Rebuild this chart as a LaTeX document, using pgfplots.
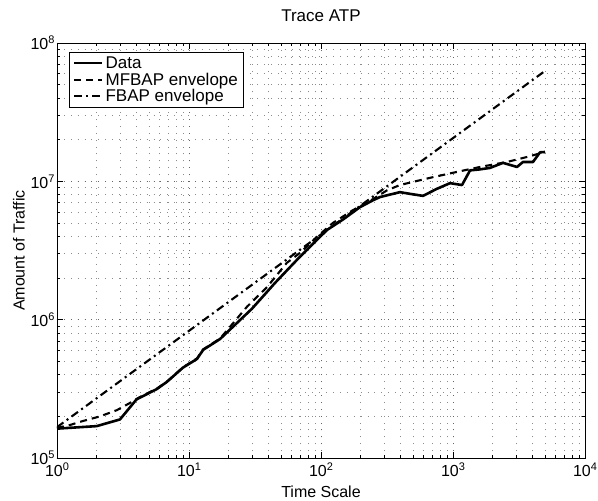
\documentclass[border=0pt]{standalone}
\usepackage{fontspec}
\setmainfont{Liberation Sans}
\usepackage{pgfplots}
\pgfplotsset{compat=1.18}
\newcommand{\tl}[1]{10\raisebox{6bp}{\fontsize{11bp}{12bp}\selectfont #1}}
\begin{document}
\begin{tikzpicture}
\begin{axis}[
  scale only axis, width=528bp, height=415bp,
  xmode=log, ymode=log,
  xmin=1, xmax=10000, ymin=1e5, ymax=1e8,
  xtick={1,10,100,1000,10000},
  xticklabels={\tl{0},\tl{1},\tl{2},\tl{3},\tl{4}},
  ytick={1e5,1e6,1e7,1e8},
  yticklabels={\tl{5},\tl{6},\tl{7},\tl{8}},
  grid=both,
  major grid style={dash pattern=on 0.9bp off 6bp, black!60, line width=0.9bp},
  minor grid style={dash pattern=on 0.9bp off 6bp, black!45, line width=0.9bp},
  tick align=inside, xtick pos=both, ytick pos=both,
  major tick length=6bp, minor tick length=3.5bp,
  every tick/.style={black, line width=0.7bp},
  axis line style={line width=0.8bp},
  ticklabel style={font=\fontsize{16bp}{18bp}\selectfont},
  xticklabel style={yshift=-1bp},
  yticklabel style={xshift=1bp},
  title={Trace ATP},
  title style={font=\fontsize{17bp}{19bp}\selectfont, yshift=12bp},
  xlabel={Time Scale},
  ylabel={Amount of Traffic},
  label style={font=\fontsize{16bp}{18bp}\selectfont},
  xlabel style={yshift=-3bp},
  ylabel style={yshift=-1bp},
  legend style={at={(0.022,0.978)}, anchor=north west, draw=black, line width=0.8bp,
    font=\fontsize{17bp}{19bp}\selectfont, legend cell align=left,
    inner xsep=4bp, inner ysep=2bp, row sep=-1bp},
  legend image code/.code={\draw[#1] (0bp,0bp) -- (28bp,0bp);},
]
\addplot[black, line width=2.6bp, line join=round] coordinates {
(1,1.63e5) (2,1.70e5) (3,1.90e5) (4,2.65e5) (5.7,3.15e5) (6.8,3.55e5) (9,4.5e5)
(11.5,5.2e5) (12.8,6.05e5) (17.2,7.25e5) (30,1.2e6) (45,1.85e6) (69,2.84e6)
(111,4.45e6) (147,5.3e6) (197,6.5e6) (248,7.3e6) (280,7.7e6) (396,8.35e6)
(480,8.1e6) (593,7.85e6) (750,8.8e6) (949,9.7e6) (1170,9.4e6) (1346,1.2e7)
(1600,1.22e7) (1906,1.25e7) (2393,1.36e7) (3053,1.27e7) (3390,1.38e7)
(4036,1.38e7) (4560,1.62e7) (4977,1.63e7)
};
\addlegendentry{Data}
\addplot[black, line width=2.1bp, dash pattern=on 7bp off 5bp] coordinates {
(1,1.65e5) (1.25,1.73e5) (1.57,1.85e5) (2.12,2.0e5) (2.85,2.22e5) (3.57,2.5e5)
(4.25,2.76e5) (5.7,3.17e5) (6.8,3.56e5) (9,4.52e5) (11.5,5.25e5) (12.8,6.1e5)
(17.2,7.3e5) (27.5,1.24e6) (39,1.72e6) (55,2.57e6) (69,3.03e6) (93,3.96e6)
(123,5.0e6) (175,6.2e6) (223,7.0e6) (316,8.6e6) (396,9.4e6) (670,1.06e7)
(1072,1.17e7) (1603,1.27e7) (2566,1.38e7) (3637,1.5e7) (4977,1.63e7)
};
\addlegendentry{MFBAP envelope}
\addplot[black, line width=2.1bp, dash pattern=on 8bp off 4bp on 2bp off 4bp] coordinates {
(1,1.67e5) (5000,6.3e7)
};
\addlegendentry{FBAP envelope}
\end{axis}
\pgfresetboundingbox
\path ([shift={(-57bp,-43bp)}]current axis.south west) rectangle ([shift={(13bp,43bp)}]current axis.north east);
\end{tikzpicture}
\end{document}
